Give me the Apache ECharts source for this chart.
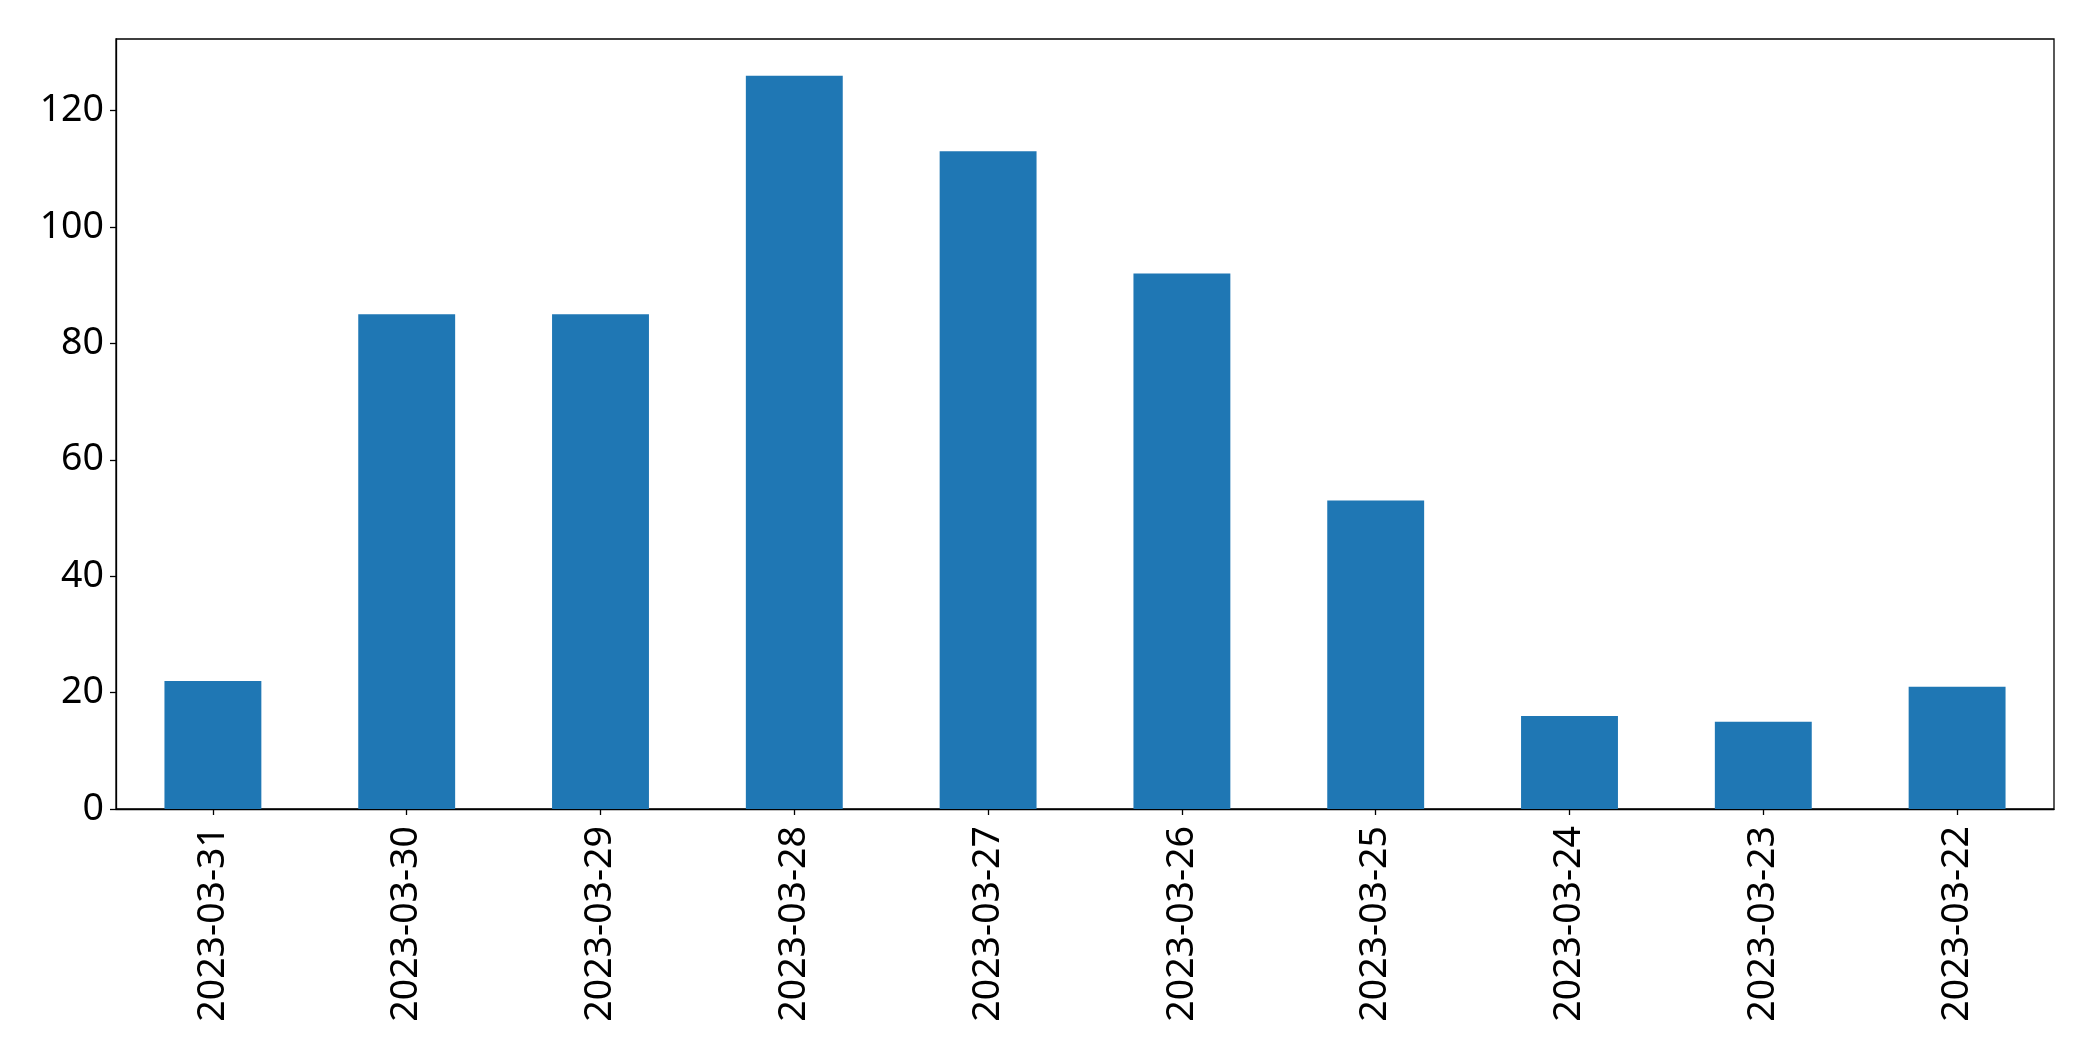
<!DOCTYPE html>
<html><head><meta charset="utf-8">
<script src="https://cdn.jsdelivr.net/npm/echarts@6/dist/echarts.min.js"></script>
<style>html,body{margin:0;padding:0;background:#fff}#c{width:2093px;height:1061px}</style>
</head><body><div id="c"></div>
<script>
const categories = ['2023-03-31','2023-03-30','2023-03-29','2023-03-28','2023-03-27','2023-03-26','2023-03-25','2023-03-24','2023-03-23','2023-03-22'];
const values = [22, 85, 85, 126, 113, 92, 53, 16, 15, 21];
const yMin = 0, yMax = 132.3, yInterval = 20;

const chart = echarts.init(document.getElementById('c'), null, {renderer: 'canvas'});
const font = 'Noto Sans';
chart.setOption({
  animation: false,
  backgroundColor: '#fff',
  grid: {left: 116, right: 39, top: 39, bottom: 252, show: true, borderColor: '#000', borderWidth: 1.3, backgroundColor: 'transparent'},
  xAxis: {
    type: 'category', data: categories, boundaryGap: true,
    axisLine: {show: true, lineStyle: {color: '#000', width: 1.3}},
    axisTick: {show: true, alignWithLabel: true, length: 6, lineStyle: {color: '#000', width: 1.3}},
    axisLabel: {rotate: 90, margin: 17, color: '#000', fontSize: 37.5, fontFamily: font, interval: 0}
  },
  yAxis: {
    type: 'value', min: yMin, max: yMax, interval: yInterval,
    splitLine: {show: false},
    axisLine: {show: true, lineStyle: {color: '#000', width: 1.3}},
    axisTick: {show: true, length: 6, lineStyle: {color: '#000', width: 1.3}},
    axisLabel: {margin: 12, color: '#000', fontSize: 37.5, fontFamily: font, showMaxLabel: false}
  },
  series: [{type: 'bar', data: values, barWidth: '50%', itemStyle: {color: '#1f77b4'}}]
});
</script></body></html>
